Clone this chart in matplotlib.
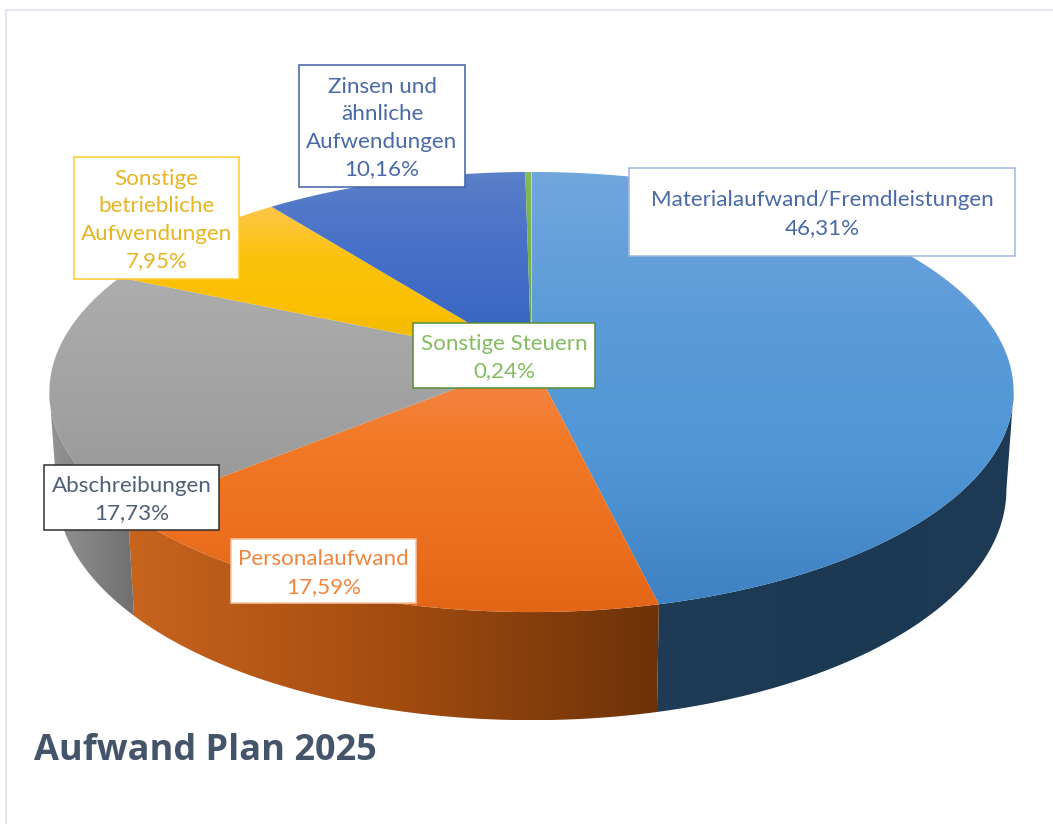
import matplotlib

matplotlib.use("Agg")
import matplotlib.pyplot as plt
import numpy as np
from matplotlib.colors import LinearSegmentedColormap
from matplotlib.patches import Polygon, Rectangle

plt.rcParams["font.family"] = ["Lato", "DejaVu Sans"]

# clockwise from the top of the pie
categories = [
    "Materialaufwand/Fremdleistungen",
    "Personalaufwand",
    "Abschreibungen",
    "Sonstige\nbetriebliche\nAufwendungen",
    "Zinsen und\nähnliche\nAufwendungen",
    "Sonstige Steuern",
]
shares = [46.31, 17.59, 17.73, 7.95, 10.16, 0.24]
title = "Aufwand Plan 2025"

top_colors = [
    ["#72a7dd", "#5c9bd9", "#5096d5", "#3f82c4"],
    ["#f4884e", "#f27925", "#ec7020", "#e26615"],
    ["#adadad", "#a6a6a6", "#9f9f9f", "#979797"],
    ["#fdc64a", "#fcc20c", "#fbc002", "#ebb700"],
    ["#5c80c9", "#4a73c8", "#3f6bc5", "#305eb6"],
    ["#86b85c", "#78b24a", "#70ad47", "#66a03e"],
]
wall_colors = [
    ["#1f3b56", "#1c3953", "#1e3a55"],
    ["#c8641e", "#a34c10", "#6c3208"],
    ["#939393", "#838383", "#6f6f6f"],
    ["#a07a00", "#a07a00", "#a07a00"],
    ["#24457f", "#24457f", "#24457f"],
    ["#4a7030", "#4a7030", "#4a7030"],
]
text_colors = ["#4a69a9", "#f0853e", "#4f5f78", "#e8b422", "#4a69a9", "#84bc62"]
edge_colors = ["#9db8e6", "#f8c4a0", "#2f2f2f", "#fdcb2e", "#3f5fa6", "#558f35"]
# left, top, right, bottom of each label box, in image pixels
label_boxes = [
    (629, 168, 1015, 256),
    (231, 539, 416, 603),
    (44, 465, 219, 530),
    (74, 157, 239, 279),
    (299, 65, 465, 187),
    (413, 323, 595, 388),
]

# projected disc: apex of the slices and perspective of the tilted circle
APEX_X, APEX_Y = 531.5, 360
SCALE_X, SCALE_Y, PERSP = 477, 215.4, 0.1455
# the wall is only seen between the two points where the outline turns
WALL_FROM = np.arccos(-PERSP)
WALL_TO = 2 * np.pi - WALL_FROM


def top_point(theta):
    x, y = np.sin(theta), np.cos(theta)
    w = 1 + PERSP * y
    return SCALE_X * x / w, SCALE_Y * y / w


def face_xy(theta):
    dx, dy = top_point(theta)
    return np.column_stack([APEX_X + dx, APEX_Y - dy])


def base_xy(theta):
    dx, dy = top_point(theta)
    return np.column_stack([APEX_X + 0.985 * dx, APEX_Y - dy * 1.048 + 96])


def gradient_fill(ax, verts, colors, horizontal=False, zorder=2):
    poly = Polygon(verts, closed=True, fc="none", ec="none", zorder=zorder)
    ax.add_patch(poly)
    ramp = np.linspace(0, 1, 256)
    ramp = ramp.reshape(1, -1) if horizontal else ramp.reshape(-1, 1)
    x0, y0 = verts.min(axis=0)
    x1, y1 = verts.max(axis=0)
    cmap = LinearSegmentedColormap.from_list("grad", colors)
    im = ax.imshow(ramp, cmap=cmap, extent=(x0, x1, y1, y0), origin="upper",
                   aspect="auto", zorder=zorder, interpolation="bilinear")
    im.set_clip_path(poly)


fig = plt.figure(figsize=(10.53, 8.24), dpi=100, facecolor="white")
ax = fig.add_axes([0, 0, 1, 1])
ax.axis("off")

edges = np.cumsum([0] + shares) / sum(shares) * 2 * np.pi

# walls first, the top face covers what lies behind it
for i in range(len(shares)):
    start, end = max(edges[i], WALL_FROM), min(edges[i + 1], WALL_TO)
    if start >= end:
        continue
    theta = np.linspace(start, end, 200)
    verts = np.vstack([face_xy(theta), base_xy(theta)[::-1]])
    gradient_fill(ax, verts, wall_colors[i], horizontal=True, zorder=2)

for i in range(len(shares)):
    theta = np.linspace(edges[i], edges[i + 1], 200)
    verts = np.vstack([[[APEX_X, APEX_Y]], face_xy(theta)])
    gradient_fill(ax, verts, top_colors[i], zorder=3)

for name, share, box, tc, ec in zip(categories, shares, label_boxes, text_colors, edge_colors):
    left, top, right, bottom = box
    ax.add_patch(Rectangle((left, top), right - left, bottom - top, fc="white", ec=ec, lw=1.1, zorder=5))
    label = f"{name}\n{share:.2f}%".replace(".", ",")
    ax.text((left + right) / 2, (top + bottom) / 2 + 2, label, color=tc, fontsize=16.1, ha="center",
            va="center", linespacing=1.46, zorder=6)

ax.text(34, 760, title, color="#44546a", fontsize=26, fontweight="bold", family=["Open Sans", "DejaVu Sans"],
        ha="left", va="baseline", zorder=6)

# frame of the original chart area
ax.plot([6, 6, 1053], [824, 10, 10], color="#e4e9f0", lw=1.6, zorder=1, solid_joinstyle="miter")

ax.set_xlim(0, 1053)
ax.set_ylim(824, 0)
fig.savefig("out.png", dpi=100)
plt.close(fig)
